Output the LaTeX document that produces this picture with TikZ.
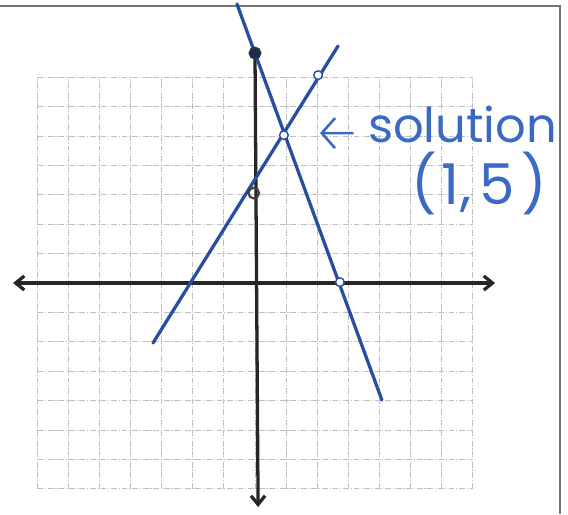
\documentclass[tikz,border=0pt]{standalone}
\usepackage{fontspec}
\newfontfamily\handfont{Poppins}
\usetikzlibrary{arrows.meta}
\definecolor{penblue}{RGB}{40,78,160}
\definecolor{inkblue}{RGB}{58,106,196}

\begin{document}
\begin{tikzpicture}[
  x=0.933cm, y=0.882cm,
  gridln/.style={draw=black!25, line width=0.7pt,
    dash pattern=on 5pt off 1.5pt on 1pt off 1.5pt},
  axis/.style={draw=black!85, line width=2.8pt},
  graph/.style={draw=penblue, line width=2.8pt, line cap=round},
  opendot/.style={circle, draw=penblue, line width=1.2pt, fill=white,
    inner sep=0pt, minimum size=2.6mm},
  darkdot/.style={circle, draw=black!80, line width=1.4pt, fill=penblue!55!black,
    inner sep=0pt, minimum size=3.4mm},
  ringdot/.style={circle, draw=black!75, line width=1.8pt,
    inner sep=0pt, minimum size=3.2mm},
  hand/.style={text=inkblue, font=\handfont\fontsize{41}{46}\selectfont, inner sep=0pt},
  barb/.style={-{Straight Barb[length=2.6mm,width=4.2mm]}},
  barbs/.style={{Straight Barb[length=2.6mm,width=4.2mm]}-{Straight Barb[length=2.6mm,width=4.2mm]}},
  arr/.style={-{Straight Barb[length=4mm,width=9mm]}, draw=inkblue,
    line width=2.2pt, line cap=round}
]
\useasboundingbox (-8.199,-7.857) rectangle (10.064,9.626);
\draw[black!55, line width=1.4pt] (-8.199,9.42) -- (9.81,9.42) -- (9.81,-7.857);

\foreach \i in {-7,...,7} {
  \draw[gridln] (\i,-7) -- (\i,7);
  \draw[gridln] (-7,\i) -- (7,\i);
}

\coordinate (xl) at (-7.78,0);
\coordinate (xr) at (7.72,0);
\coordinate (yt) at (0,7.82);
\coordinate (yb) at (0.1,-7.62);
\draw[axis, barbs] (xl) -- (xr);
\draw[axis, barb] (yt) -- (yb);

\coordinate (a1) at (-3.28,-2.04);
\coordinate (a2) at (2.67,8.06);
\coordinate (d1) at (-0.58,9.49);
\coordinate (d2) at (4.08,-3.98);
\draw[graph] (a1) -- (a2);
\draw[graph] (d1) -- (d2);

\node[darkdot] (top) at (yt) {};
\node[ringdot] (yint) at (-0.04,3.06) {};
\node[opendot] (up) at (2.03,7.07) {};
\node[opendot] (isect) at (0.93,5.03) {};
\node[opendot] (xint) at (2.73,0.03) {};

\node[hand, anchor=base west] (sol) at (3.63,4.79) {solution};
\node[hand, font=\handfont\fontsize{48}{52}\selectfont] (pt) at (7.2,3.40)
  {(\kern4pt1\kern1pt,\kern7pt5\kern5pt)};
\coordinate (ah) at ([shift={(-4.6mm,2.7mm)}]sol.base west);
\coordinate (at) at (2.09,5.10);
\draw[arr] (ah) -- (at);
\end{tikzpicture}
\end{document}
